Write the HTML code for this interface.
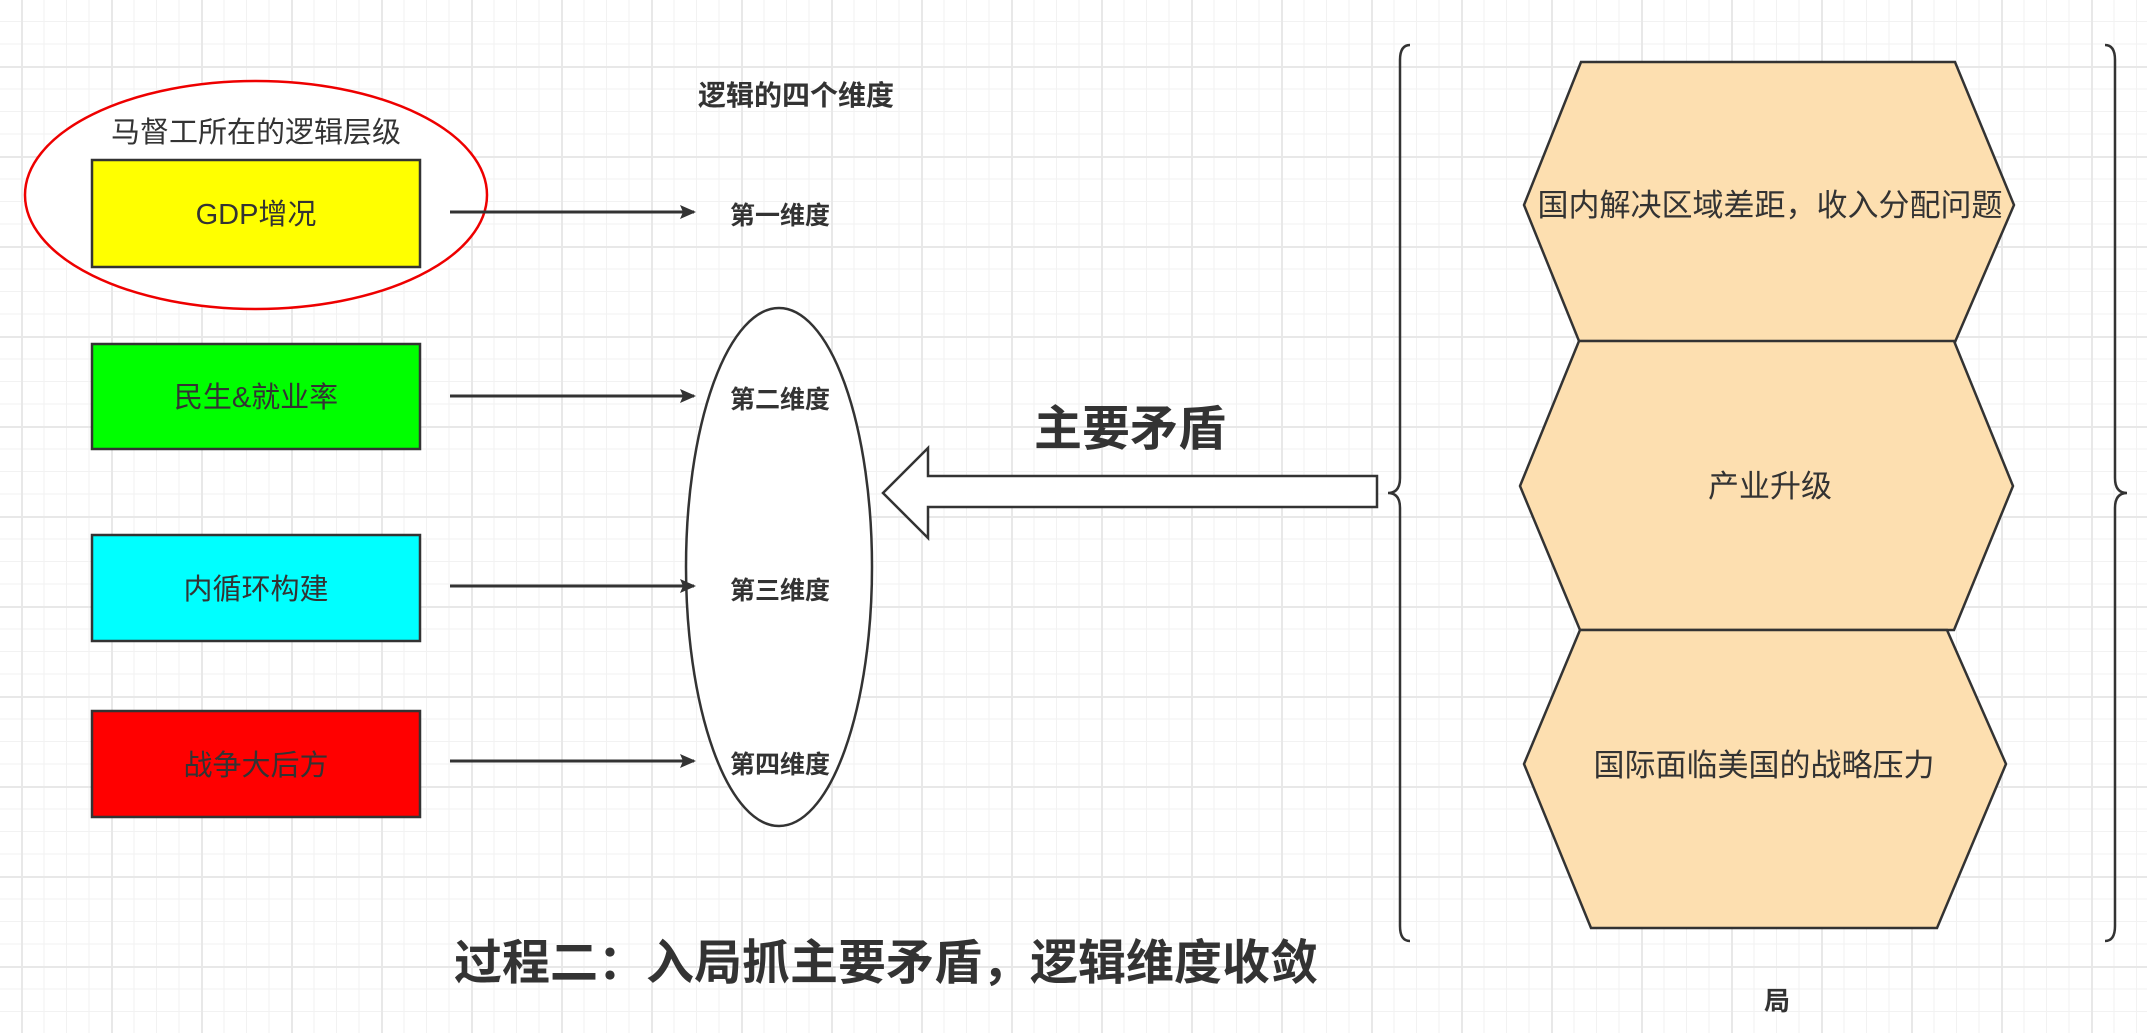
<!DOCTYPE html>
<html><head><meta charset="utf-8"><style>
html,body{margin:0;padding:0;}
body{width:2147px;height:1033px;overflow:hidden;position:relative;background-color:#fff;
background-image:
linear-gradient(#e8e8e8 2px,transparent 2px),
linear-gradient(90deg,#e8e8e8 2px,transparent 2px),
linear-gradient(#f2f2f2 1px,transparent 1px),
linear-gradient(90deg,#f2f2f2 1px,transparent 1px);
background-size:90px 90px,90px 90px,22.5px 22.5px,22.5px 22.5px;
background-position:0 66px,21px 0,0 66px,21px 0;
font-family:"Liberation Sans","Noto Sans CJK SC",sans-serif;}
svg{position:absolute;left:0;top:0;}
</style></head><body>
<svg width="2147" height="1033" viewBox="0 0 2147 1033" font-family="Liberation Sans, Noto Sans CJK SC, sans-serif">
<defs><marker id="ah" markerWidth="16" markerHeight="14" refX="14" refY="7" orient="auto" markerUnits="userSpaceOnUse"><path d="M0,0 L16,7 L0,14 L3,7 Z" fill="#333"/></marker></defs>
<ellipse cx="256" cy="195" rx="231" ry="114" fill="#fff" stroke="#e00" stroke-width="2.5"/>
<text x="256" y="142" font-size="29" text-anchor="middle" fill="#333">马督工所在的逻辑层级</text>
<text x="796" y="105" font-size="28" font-weight="bold" text-anchor="middle" fill="#333">逻辑的四个维度</text>
<rect x="92" y="160" width="328" height="107" fill="#ff0" stroke="#333" stroke-width="2.5"/>
<text x="256" y="224" font-size="29" text-anchor="middle" fill="#333">GDP增况</text>
<rect x="92" y="344" width="328" height="105" fill="#0f0" stroke="#333" stroke-width="2.5"/>
<text x="256" y="407" font-size="29" text-anchor="middle" fill="#333">民生&amp;就业率</text>
<rect x="92" y="535" width="328" height="106" fill="#0ff" stroke="#333" stroke-width="2.5"/>
<text x="256" y="599" font-size="29" text-anchor="middle" fill="#333">内循环构建</text>
<rect x="92" y="711" width="328" height="106" fill="#f00" stroke="#333" stroke-width="2.5"/>
<text x="256" y="775" font-size="29" text-anchor="middle" fill="#333">战争大后方</text>
<ellipse cx="779" cy="567" rx="93" ry="259" fill="#fff" stroke="#333" stroke-width="2.5"/>
<g stroke="#333" stroke-width="3">
<line x1="450" y1="212" x2="694" y2="212" marker-end="url(#ah)"/>
<line x1="450" y1="396" x2="694" y2="396" marker-end="url(#ah)"/>
<line x1="450" y1="586" x2="694" y2="586" marker-end="url(#ah)"/>
<line x1="450" y1="761" x2="694" y2="761" marker-end="url(#ah)"/>
</g>
<g font-size="25" font-weight="bold" fill="#333" text-anchor="middle">
<text x="780" y="224">第一维度</text>
<text x="780" y="408">第二维度</text>
<text x="780" y="599">第三维度</text>
<text x="780" y="773">第四维度</text>
</g>
<path d="M1377,476 L928,476 L928,448 L883,493 L928,538 L928,507 L1377,507 Z" fill="#fff" stroke="#333" stroke-width="2.5"/>
<text x="1130" y="445" font-size="48" font-weight="bold" text-anchor="middle" fill="#333">主要矛盾</text>
<path d="M1410,45 Q1400,45 1400,60 L1400,478 Q1400,493 1388,493 Q1400,493 1400,508 L1400,926 Q1400,941 1410,941" fill="none" stroke="#333" stroke-width="2.5"/>
<path d="M2105,45 Q2115,45 2115,60 L2115,478 Q2115,493 2127,493 Q2115,493 2115,508 L2115,926 Q2115,941 2105,941" fill="none" stroke="#333" stroke-width="2.5"/>
<g fill="#fddfb0" stroke="#333" stroke-width="2.5">
<polygon points="1524,205 1581,62 1955,62 2014,205 1955,342 1579,341"/>
<polygon points="1520,486 1579,341 1954,341 2013,486 1954,630 1580,630"/>
<polygon points="1524,764 1580,630 1947,630 2006,764 1937,928 1591,928"/>
</g>
<g font-size="31" fill="#333" text-anchor="middle">
<text x="1770" y="216">国内解决区域差距，收入分配问题</text>
<text x="1770" y="497">产业升级</text>
<text x="1764" y="776">国际面临美国的战略压力</text>
</g>
<text x="1777" y="1010" font-size="26" font-weight="bold" text-anchor="middle" fill="#333">局</text>
<text x="886" y="979" font-size="48" font-weight="bold" text-anchor="middle" fill="#333">过程二：入局抓主要矛盾，逻辑维度收敛</text>
</svg>
</body></html>
